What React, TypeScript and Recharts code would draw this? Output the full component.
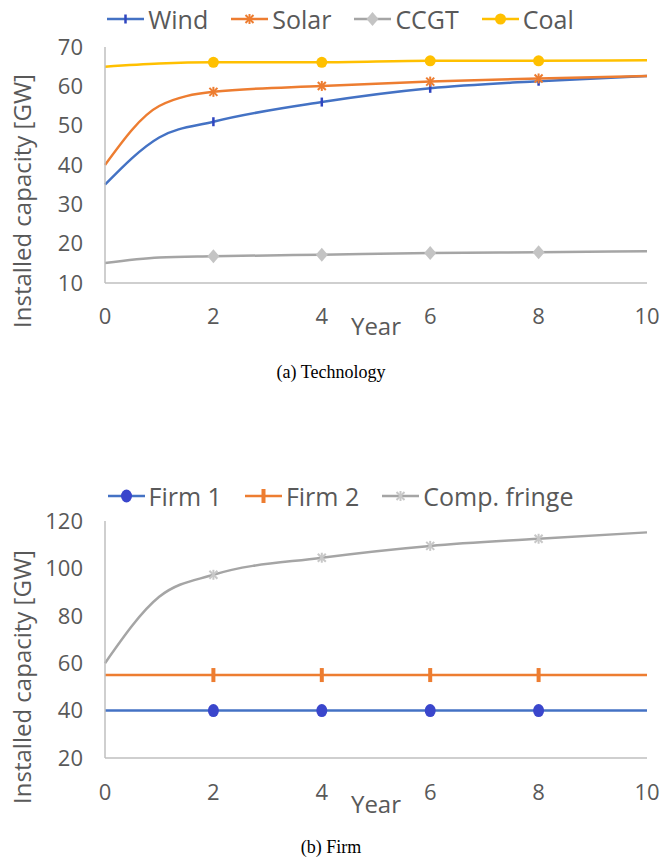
import React from "react";
import { LineChart, Line, XAxis, YAxis, Legend } from "recharts";

const years = [0, 1, 2, 4, 6, 8, 10];
const markedYears = [2, 4, 6, 8];

const wind = [35, 47, 51, 56, 59.5, 61.3, 62.6];
const solar = [40, 55, 58.6, 60.1, 61.2, 62, 62.6];
const ccgt = [15.1, 16.5, 16.8, 17.2, 17.6, 17.8, 18.1];
const coal = [65, 65.8, 66.1, 66.1, 66.5, 66.5, 66.6];

const firm1 = [40, 40, 40, 40, 40, 40, 40];
const firm2 = [55, 55, 55, 55, 55, 55, 55];
const fringe = [60, 88, 97.3, 104.5, 109.5, 112.5, 115.2];

const xTicks = [0, 2, 4, 6, 8, 10];
const yTicksA = [10, 20, 30, 40, 50, 60, 70];
const yTicksB = [20, 40, 60, 80, 100, 120];

const techData = years.map((y, i) => ({ year: y, Wind: wind[i], Solar: solar[i], CCGT: ccgt[i], Coal: coal[i] }));
const firmData = years.map((y, i) => ({ year: y, "Firm 1": firm1[i], "Firm 2": firm2[i], "Comp. fringe": fringe[i] }));

const FONT = "'Open Sans', sans-serif";
const TEXT = "#595959";
const AXIS = "#bfbfbf";
const H = 360;

type Kind = "dash" | "star" | "diamond" | "circle" | "ellipse" | "bar";

const Marker = ({ kind, x, y, color }: { kind: Kind; x: number; y: number; color: string }) => {
  switch (kind) {
    case "dash":
      return <rect x={x - 1.25} y={y - 4.5} width={2.5} height={9} fill={color} />;
    case "bar":
      return <rect x={x - 2} y={y - 7} width={4} height={14} fill={color} />;
    case "star":
      return (
        <g stroke={color} strokeWidth={2}>
          <line x1={x - 4} y1={y - 4} x2={x + 4} y2={y + 4} />
          <line x1={x - 4} y1={y + 4} x2={x + 4} y2={y - 4} />
          <line x1={x} y1={y - 5} x2={x} y2={y + 5} />
        </g>
      );
    case "diamond":
      return <polygon points={`${x},${y - 7} ${x + 6},${y} ${x},${y + 7} ${x - 6},${y}`} fill={color} />;
    case "circle":
      return <circle cx={x} cy={y} r={5.5} fill={color} />;
    case "ellipse":
      return <ellipse cx={x} cy={y} rx={5.5} ry={6.5} fill={color} />;
  }
  return null;
};

const makeDot = (kind: Kind, color: string) => (p: any) => {
  const { cx, cy, payload, index } = p;
  if (!markedYears.includes(payload.year)) return <g key={`d${index}`} />;
  return (
    <g key={`d${index}`}>
      <Marker kind={kind} x={cx} y={cy} color={color} />
    </g>
  );
};

type SeriesDef = { key: string; color: string; marker: string; kind: Kind };

const techSeries: SeriesDef[] = [
  { key: "Wind", color: "#4472c4", marker: "#2f45c0", kind: "dash" },
  { key: "Solar", color: "#ed7d31", marker: "#ed7d31", kind: "star" },
  { key: "CCGT", color: "#a5a5a5", marker: "#c4c4c4", kind: "diamond" },
  { key: "Coal", color: "#ffc000", marker: "#ffc000", kind: "circle" },
];

const firmSeries: SeriesDef[] = [
  { key: "Firm 1", color: "#4472c4", marker: "#3a46cc", kind: "ellipse" },
  { key: "Firm 2", color: "#ed7d31", marker: "#ed7d31", kind: "bar" },
  { key: "Comp. fringe", color: "#a5a5a5", marker: "#c8c8c8", kind: "star" },
];

// legend box is a fixed 30px tall so the plot offset stays predictable
const makeLegend = (series: SeriesDef[], shift: number) => () => (
  <div style={{ display: "flex", justifyContent: "center", alignItems: "center", height: 30, paddingLeft: shift,
    fontFamily: FONT, fontSize: 25, color: TEXT, lineHeight: "30px" }}>
    {series.map((s) => (
      <div key={s.key} style={{ display: "flex", alignItems: "center", marginRight: 23 }}>
        <svg width={37} height={20} style={{ marginRight: 4 }}>
          <line x1={0} y1={10} x2={37} y2={10} stroke={s.color} strokeWidth={2.5} />
          <Marker kind={s.kind} x={18.5} y={10} color={s.marker} />
        </svg>
        <span>{s.key}</span>
      </div>
    ))}
  </div>
);

const yLabel = (cx: number, cy: number) => () => (
  <text x={cx} y={cy} transform={`rotate(-90, ${cx}, ${cy})`} textAnchor="middle" dominantBaseline="central"
    fill={TEXT} fontSize={24} fontFamily={FONT}>
    Installed capacity [GW]
  </text>
);

const tickStyle = { fill: TEXT, fontSize: 22, fontFamily: FONT };

const Panel = ({ data, series, domain, ticks, top, xHeight, xMargin, labelY, legendShift, legendTop, yearOffset }: any) => (
  <LineChart width={662} height={H} data={data} margin={{ top, right: 15, bottom: 0, left: 0 }}>
    <XAxis dataKey="year" type="number" domain={[0, 10]} ticks={xTicks} stroke={AXIS} strokeWidth={1.5}
      tickLine={false} tickSize={0} tickMargin={xMargin} tick={tickStyle} height={xHeight}
      label={{ value: "Year", position: "insideBottom", offset: yearOffset, fill: TEXT, fontSize: 24, fontFamily: FONT }} />
    <YAxis type="number" domain={domain} ticks={ticks} width={105} stroke={AXIS} strokeWidth={1.5}
      tickLine={false} tickSize={0} tickMargin={22} tick={tickStyle} interval={0}
      label={{ content: yLabel(21, labelY) }} />
    <Legend verticalAlign="top" content={makeLegend(series, legendShift)} wrapperStyle={{ top: legendTop, left: 0, width: 662 }} />
    {series.map((s: SeriesDef) => (
      <Line key={s.key} type="monotone" dataKey={s.key} stroke={s.color} strokeWidth={2.5}
        dot={makeDot(s.kind, s.marker)} activeDot={false} isAnimationActive={false} />
    ))}
  </LineChart>
);

const captionStyle: React.CSSProperties = {
  position: "absolute", width: 662, textAlign: "center", fontFamily: "'Liberation Serif', serif", fontSize: 18,
};

const App = () => (
  <div style={{ position: "absolute", left: 0, top: 0, width: 662, height: 861, background: "#fff" }}>
    <Panel data={techData} series={techSeries} domain={[10, 70]} ticks={yTicksA} top={17} xHeight={77} xMargin={25}
      labelY={201} legendShift={42} legendTop={4} yearOffset={25} />
    <div style={{ ...captionStyle, top: 362 }}>(a) Technology</div>
    <div style={{ position: "absolute", top: 470, left: 0 }}>
      <Panel data={firmData} series={firmSeries} domain={[20, 120]} ticks={yTicksB} top={21} xHeight={72} xMargin={26}
        labelY={207} legendShift={42} legendTop={11} yearOffset={17} />
    </div>
    <div style={{ ...captionStyle, top: 837 }}>(b) Firm</div>
  </div>
);

export default App;
